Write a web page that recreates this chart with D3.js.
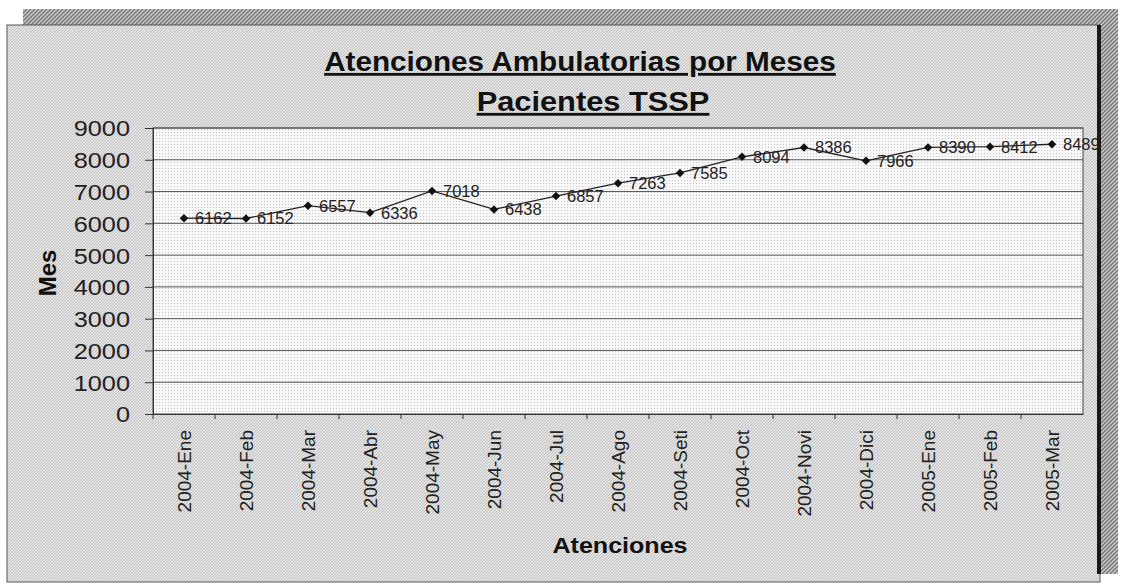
<!DOCTYPE html>
<html>
<head>
<meta charset="utf-8">
<script src="https://cdn.jsdelivr.net/npm/d3@7"></script>
<style>
  body { margin: 0; background: #fff; }
  svg { display: block; font-family: Arial, "Liberation Sans", sans-serif; }
</style>
</head>
<body>
<div id="chart"></div>
<script>
// data
var meses = ["2004-Ene", "2004-Feb", "2004-Mar", "2004-Abr", "2004-May", "2004-Jun", "2004-Jul",
             "2004-Ago", "2004-Seti", "2004-Oct", "2004-Novi", "2004-Dici", "2005-Ene", "2005-Feb", "2005-Mar"];
var atenciones = [6162, 6152, 6557, 6336, 7018, 6438, 6857, 7263, 7585, 8094, 8386, 7966, 8390, 8412, 8489];
var yTicks = [0, 1000, 2000, 3000, 4000, 5000, 6000, 7000, 8000, 9000];

var width = 1121, height = 584;
var plot = {left: 153, top: 128, right: 1083, bottom: 414};
var stretch = 1.15; // the scanned chart is a bit wide

var svg = d3.select("#chart").append("svg")
    .attr("width", width)
    .attr("height", height);

var defs = svg.append("defs");

// hatched shadow
var hatch = defs.append("pattern").attr("id", "hatch")
    .attr("width", 4).attr("height", 4)
    .attr("patternUnits", "userSpaceOnUse");
hatch.append("rect").attr("width", 4).attr("height", 4).attr("fill", "#c4c4c4");
hatch.append("path").attr("d", "M-1,5 L5,-1 M-1,1 L1,-1 M3,5 L5,3")
    .attr("stroke", "#6a6a6a").attr("stroke-width", 1.2);

// chart area fill
var bg = defs.append("pattern").attr("id", "bg")
    .attr("width", 3).attr("height", 3)
    .attr("patternUnits", "userSpaceOnUse");
bg.append("rect").attr("width", 3).attr("height", 3).attr("fill", "#e4e4e4");
bg.append("path").attr("d", "M-1,4 L4,-1").attr("stroke", "#bebebe").attr("stroke-width", 1);

// plot area fill (dotted grid)
var dots = defs.append("pattern").attr("id", "dots")
    .attr("width", 3).attr("height", 3)
    .attr("patternUnits", "userSpaceOnUse");
dots.append("rect").attr("width", 3).attr("height", 3).attr("fill", "#f8f8f8");
dots.append("rect").attr("width", 1).attr("height", 1).attr("fill", "#c4c4c4");

// shadow + box
svg.append("rect").attr("x", 23).attr("y", 9).attr("width", 1095).attr("height", 565)
    .attr("fill", "url(#hatch)");
svg.append("rect").attr("x", 7).attr("y", 25).attr("width", 1093).attr("height", 557)
    .attr("fill", "url(#bg)").attr("stroke", "#555").attr("stroke-width", 1);
svg.append("line").attr("x1", 1099).attr("x2", 1099).attr("y1", 25).attr("y2", 574)
    .attr("stroke", "#1a1a1a").attr("stroke-width", 4);

var x = d3.scaleBand().domain(meses).range([plot.left, plot.right]);
var y = d3.scaleLinear().domain([0, 9000]).range([plot.bottom, plot.top]);

svg.append("rect")
    .attr("x", plot.left).attr("y", plot.top)
    .attr("width", plot.right - plot.left).attr("height", plot.bottom - plot.top)
    .attr("fill", "url(#dots)").attr("stroke", "#444").attr("stroke-width", 1);

// gridlines
svg.append("g").selectAll("line").data(yTicks.filter(function(d) { return d > 0; }))
    .enter().append("line")
    .attr("x1", plot.left).attr("x2", plot.right)
    .attr("y1", function(d) { return y(d); }).attr("y2", function(d) { return y(d); })
    .attr("stroke", "#555").attr("stroke-width", 1);

// y axis
var yAxis = svg.append("g")
    .attr("transform", "translate(" + plot.left + ",0)")
    .call(d3.axisLeft(y).tickValues(yTicks).tickSize(8).tickFormat(d3.format("d")));
yAxis.select(".domain").attr("stroke", "#333");
yAxis.selectAll(".tick line").attr("stroke", "#333");
yAxis.selectAll(".tick text")
    .attr("x", 0).attr("dy", "0.36em")
    .attr("transform", "translate(-23,0) scale(" + stretch + ",1)")
    .attr("font-size", 22).attr("fill", "#222")
    .attr("font-family", "Arial, 'Liberation Sans', sans-serif");

// x axis
var xAxis = svg.append("g")
    .attr("transform", "translate(0," + plot.bottom + ")")
    .call(d3.axisBottom(x).tickSize(0).tickPadding(0));
xAxis.select(".domain").attr("stroke", "#333");
xAxis.selectAll(".tick text")
    .attr("font-size", 19).attr("fill", "#222")
    .attr("font-family", "Arial, 'Liberation Sans', sans-serif")
    .attr("transform", "rotate(-90)")
    .attr("text-anchor", "end")
    .attr("dy", "0.36em")
    .attr("x", -16).attr("y", 0);
// tick marks between categories
svg.append("g").selectAll("line").data(meses)
    .enter().append("line")
    .attr("x1", function(d) { return x(d); }).attr("x2", function(d) { return x(d); })
    .attr("y1", plot.bottom).attr("y2", plot.bottom + 5)
    .attr("stroke", "#333");

// line + markers
var cx = function(i) { return x(meses[i]) + x.bandwidth() / 2; };
var line = d3.line()
    .x(function(d, i) { return cx(i); })
    .y(function(d) { return y(d); });

svg.append("path").datum(atenciones)
    .attr("d", line)
    .attr("fill", "none").attr("stroke", "#222").attr("stroke-width", 1.3);

svg.append("g").selectAll("path").data(atenciones)
    .enter().append("path")
    .attr("d", d3.symbol().type(d3.symbolSquare).size(36))
    .attr("transform", function(d, i) {
        return "translate(" + cx(i) + "," + y(d) + ") rotate(45)";
    })
    .attr("fill", "#111");

svg.append("g").selectAll("text").data(atenciones)
    .enter().append("text")
    .attr("x", function(d, i) { return cx(i) + 11; })
    .attr("y", function(d) { return y(d); })
    .attr("dy", "0.36em")
    .attr("font-size", 16.5).attr("fill", "#222")
    .text(function(d) { return d; });

// titles
var title = svg.append("g").attr("font-weight", "bold").attr("font-size", 28)
    .attr("text-anchor", "middle").attr("fill", "#111")
    .attr("text-decoration", "underline");
title.append("text").attr("transform", "translate(580,71) scale(1.06,1)")
    .text("Atenciones Ambulatorias por Meses");
title.append("text").attr("transform", "translate(593,111) scale(1.1,1)")
    .text("Pacientes TSSP");

svg.append("text")
    .attr("transform", "translate(56,273) rotate(-90)")
    .attr("text-anchor", "middle")
    .attr("font-weight", "bold").attr("font-size", 24).attr("fill", "#111")
    .text("Mes");

svg.append("text")
    .attr("transform", "translate(620,553) scale(1.14,1)")
    .attr("text-anchor", "middle")
    .attr("font-weight", "bold").attr("font-size", 22).attr("fill", "#111")
    .text("Atenciones");
</script>
</body>
</html>
